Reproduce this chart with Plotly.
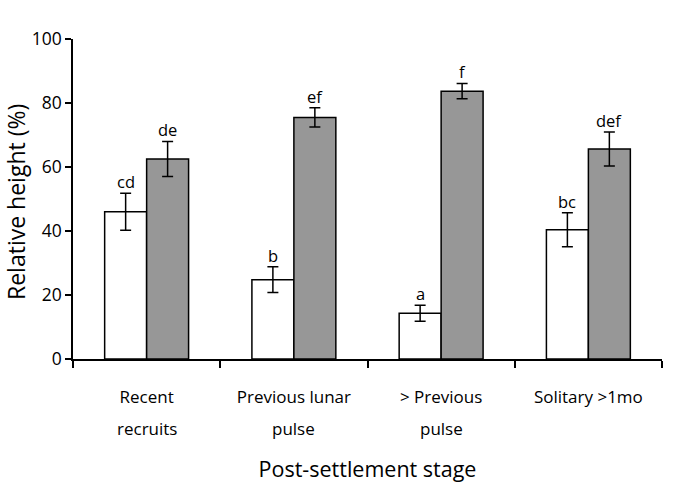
import plotly.graph_objects as go

categories = ["Recent<br>recruits", "Previous lunar<br>pulse", "> Previous<br>pulse", "Solitary >1mo"]
white_vals = [46.0, 24.8, 14.3, 40.4]
white_err = [5.8, 4.0, 2.5, 5.3]
white_lbl = ["cd", "b", "a", "bc"]
grey_vals = [62.5, 75.5, 83.7, 65.6]
grey_err = [5.5, 3.0, 2.4, 5.3]
grey_lbl = ["de", "ef", "f", "def"]

line1 = [c.split("<br>")[0] for c in categories]
line2 = [c.split("<br>")[1] if "<br>" in c else "" for c in categories]

FONT = "Open Sans, sans-serif"

fig = go.Figure()
fig.add_trace(go.Bar(
    x=categories, y=white_vals, name="white",
    marker=dict(color="white", line=dict(color="black", width=1.5)),
    error_y=dict(type="data", array=white_err, color="black", thickness=1.5, width=5.5),
))
fig.add_trace(go.Bar(
    x=categories, y=grey_vals, name="grey",
    marker=dict(color="#979797", line=dict(color="black", width=1.5)),
    error_y=dict(type="data", array=grey_err, color="black", thickness=1.5, width=5.5),
))

for cat, v, e, t in zip(categories, white_vals, white_err, white_lbl):
    fig.add_annotation(x=cat, y=v + e, text=t, showarrow=False, xshift=-21,
                       yanchor="bottom", yshift=-2, font=dict(size=16.5, color="black", family=FONT))
for cat, v, e, t in zip(categories, grey_vals, grey_err, grey_lbl):
    fig.add_annotation(x=cat, y=v + e, text=t, showarrow=False, xshift=21,
                       yanchor="bottom", yshift=-2, font=dict(size=16.5, color="black", family=FONT))

# second lines of the category labels (wider line spacing than plotly's <br>)
for cat, t in zip(categories, line2):
    if t:
        fig.add_annotation(x=cat, y=0, yref="paper", text=t, showarrow=False,
                           yanchor="top", yshift=-56, font=dict(size=17, color="black", family=FONT))

# y-axis title
fig.add_annotation(x=0, xref="paper", y=0.5, yref="paper", text="Relative height (%)",
                   textangle=-90, showarrow=False, xanchor="center", yanchor="middle",
                   xshift=-57, yshift=-3, font=dict(size=23, color="black", family=FONT))

fig.update_layout(
    width=687, height=483,
    margin=dict(l=73, r=25, t=39, b=124),
    paper_bgcolor="white", plot_bgcolor="white",
    barmode="group", bargap=0.43, bargroupgap=0,
    showlegend=False,
    font=dict(family=FONT, color="black"),
)
fig.update_xaxes(
    automargin=False,
    tickmode="array", tickvals=categories, ticktext=line1,
    showline=True, linecolor="black", linewidth=1.5,
    tickson="boundaries", ticks="outside", ticklen=7, tickwidth=1.5, tickcolor="black",
    tickfont=dict(size=17, family=FONT, color="black"),
    ticklabelstandoff=22,
    title=dict(text="Post-settlement stage", font=dict(size=21.5, family=FONT, color="black"), standoff=56),
    showgrid=False,
)
fig.update_yaxes(
    automargin=False,
    range=[0, 100], tickvals=[0, 20, 40, 60, 80, 100],
    showline=True, linecolor="black", linewidth=1.5,
    ticks="outside", ticklen=6, tickwidth=1.5, tickcolor="black",
    tickfont=dict(size=17.5, family=FONT, color="black"),
    showgrid=False, zeroline=False,
)

fig.write_html("out.html", config={"displayModeBar": False},
               post_script="document.body.style.margin='0';")
